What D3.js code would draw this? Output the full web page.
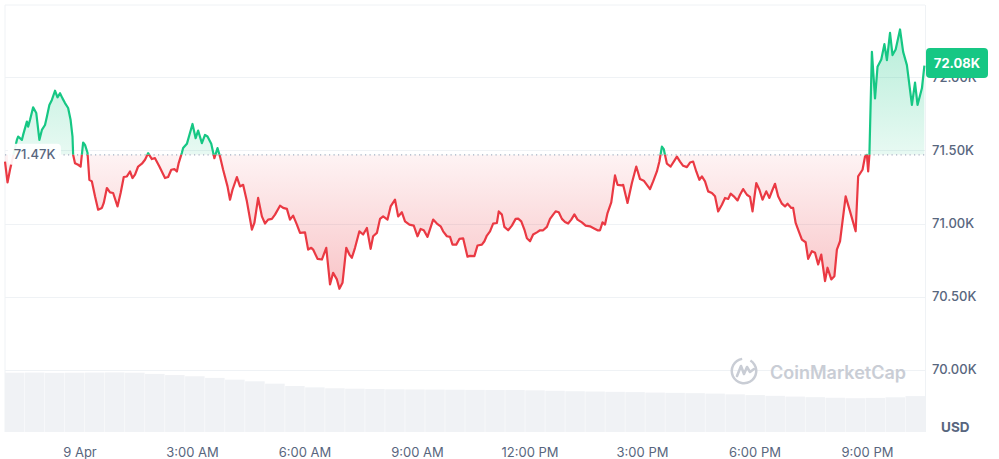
<!DOCTYPE html>
<html>
<head>
<meta charset="utf-8">
<script src="https://cdn.jsdelivr.net/npm/d3@7/dist/d3.min.js"></script>
<style>
  html, body { margin: 0; padding: 0; background: #fff; }
  svg { display: block; font-family: Inter, "Noto Sans", sans-serif; }
</style>
</head>
<body>
<svg id="chart" width="999" height="459"></svg>
<script>
// ---------- DATA ----------
const startTime = new Date(2024, 3, 8, 22, 0); // 8 Apr 22:00
// minutes after startTime
const minutes = [
  0,4,8,19,21,27,29,35,37,40,
  45,50,55,59,64,67,71,75,80,84,
  88,92,96,101,105,108,109,112,117,121,
  125,128,132,135,139,144,149,155,158,163,
  168,173,180,185,190,195,200,204,208,213,
  219,224,229,235,240,247,
  256,261,266,271,275,278,283,285,291,300,
  305,309,315,320,324,330,335,340,344,349,
  356,360,364,371,376,381,387,395,399,405,
  411,416,421,427,432,440,445,451,456,461,
  467,472,480,485,490,
  493,500,507,514,520,525,531,535,540,546,
  551,555,560,567,573,579,585,589,595,600,
  605,612,617,624,629,635,640,647,654,660,
  665,670,676,685,691,697,701,707,712,716,
  722,727,733,740,
  744,751,756,763,767,771,776,781,787,790,
  795,799,805,811,817,821,826,831,835,840,
  845,851,856,861,867,872,877,881,886,891,
  896,901,906,911,916,923,929,936,941,948,
  952,956,960,964,970,976,980,987,989,
  996,1003,1010,1016,1022,1027,1032,1037,1043,1047,
  1051,1054,1059,1065,1070,1075,1080,1085,1091,1096,
  1101,1106,1111,1115,1120,1125,1131,1136,1141,1147,
  1152,1157,1161,1166,1172,1176,1181,1187,1192,1196,
  1202,1207,1212,1218,1223,1228,1232,
  1237,1243,1248,1252,1258,1261,1265,1270,1275,1281,
  1285,1291,1296,1301,1306,1312,1316,1322,1327,1331,
  1336,1345,1352,1361,1365,1372,1376,1379,1381,1383,
  1387,1392,1396,1402,1407,1411,1416,1420,1425,1432,
  1437,1443,1451,1456,1460,1467,1471
];
const prices = [
  71424,71281,71368,71572,71595,71572,71606,71697,71663,71708,
  71795,71756,71572,71640,71674,71731,71811,71845,71908,71863,
  71891,71856,71824,71790,71708,71595,71470,71413,71402,71390,
  71554,71538,71484,71299,71288,71186,71095,71107,71141,71243,
  71213,71209,71117,71209,71318,71322,71356,71311,71334,71390,
  71409,71436,71481,71441,71447,71390,
  71311,71318,71368,71372,71356,71415,71484,71516,71545,71681,
  71584,71636,71550,71606,71595,71545,71447,71516,71458,71368,
  71254,71163,71231,71318,71254,71265,71152,70959,71004,71175,
  71049,71000,71027,71032,71061,71122,71107,71100,71027,71054,
  70993,70936,70940,70822,70834,
  70822,70759,70754,70834,70584,70663,70618,70554,70595,70834,
  70788,70766,70834,70947,70925,70970,70827,70913,70936,71032,
  71049,71027,71117,71163,71049,71077,71015,70993,70986,70913,
  70963,70954,70909,71027,71000,70981,70947,70913,70909,70856,
  70856,70895,70899,70773,
  70779,70777,70850,70856,70879,70918,70947,71000,71004,71083,
  71061,70977,70954,70986,71032,71034,71015,70959,70899,70879,
  70925,70940,70954,70954,70977,71032,71061,71083,71077,71032,
  71011,71000,71027,71063,71027,71008,70986,70981,70970,70954,
  70954,71008,70993,71072,71145,71329,71265,71261,71265,
  71141,71277,71390,71304,71293,71265,71236,71288,71356,71424,
  71526,71509,71409,71390,71424,71458,71424,71395,71386,71417,
  71424,71356,71299,71322,71288,71220,71209,71186,71083,71129,
  71175,71168,71204,71186,71158,71197,71236,71197,71182,71083,
  71277,71231,71163,71220,71175,71231,71272,
  71186,71136,71117,71136,71107,71107,71004,70947,70890,70872,
  70759,70811,70800,70720,70788,70606,70698,70618,70640,70822,
  70879,71186,71083,70947,71322,71368,71458,71470,71356,71470,
  72174,71856,72072,72122,72227,72118,72304,72152,72190,72327,
  72174,72083,71811,71963,71811,71925,72080
];
const refPrice = 71470;
const lastPrice = 72080;
const yTicks = [70000, 70500, 71000, 71500, 72000];
// 24h volume (billions USD), one bar per ~32 minutes
const volumes = [
  40.0,40.1,39.9,40.0,40.1,40.2,40.0,39.2,38.4,37.6,
  36.5,35.3,34.2,32.6,31.0,30.1,29.5,29.2,29.0,28.8,
  28.7,28.6,28.5,28.4,28.3,28.3,28.1,27.8,27.5,27.3,
  27.1,26.9,26.6,26.4,26.2,25.9,25.4,24.9,24.4,23.9,
  23.5,23.1,22.8,23.0,23.4,24.2
];

// ---------- LAYOUT ----------
const svg = d3.select("#chart");
const L = 5, R = 925, TOP = 5, VOLBOT = 432;
const data = minutes.map((m, i) => ({ t: d3.timeMinute.offset(startTime, m), v: prices[i] }));

const x = d3.scaleTime()
  .domain([startTime, d3.timeMinute.offset(startTime, minutes[minutes.length - 1])])
  .range([L, 924.4]);
const y = d3.scaleLinear().domain([70000, 72000]).range([369.8, 77.3]);
const vy = d3.scaleLinear().domain([0, 40]).range([VOLBOT, 372.7]);
const vx = d3.scaleBand().domain(d3.range(volumes.length)).range([L, R]).paddingInner(0.025);

const GREEN = "#16c784", RED = "#ea3943", TXT = "#58667e", GRID = "#eff2f5";
const refY = y(refPrice);

const defs = svg.append("defs");
const gG = defs.append("linearGradient").attr("id", "gGreen")
  .attr("gradientUnits", "userSpaceOnUse").attr("x1", 0).attr("x2", 0).attr("y1", 25).attr("y2", refY);
gG.append("stop").attr("offset", 0).attr("stop-color", GREEN).attr("stop-opacity", 0.32);
gG.append("stop").attr("offset", 1).attr("stop-color", GREEN).attr("stop-opacity", 0.1);
const gR = defs.append("linearGradient").attr("id", "gRed")
  .attr("gradientUnits", "userSpaceOnUse").attr("x1", 0).attr("x2", 0).attr("y1", refY).attr("y2", 292);
gR.append("stop").attr("offset", 0).attr("stop-color", RED).attr("stop-opacity", 0.06);
gR.append("stop").attr("offset", 1).attr("stop-color", RED).attr("stop-opacity", 0.3);

defs.append("clipPath").attr("id", "cAbove").append("rect")
  .attr("x", 0).attr("y", 0).attr("width", 999).attr("height", refY);
defs.append("clipPath").attr("id", "cBelow").append("rect")
  .attr("x", 0).attr("y", refY).attr("width", 999).attr("height", 459 - refY);

// frame + grid
svg.append("line").attr("x1", L).attr("x2", R).attr("y1", TOP).attr("y2", TOP).attr("stroke", GRID);
svg.append("line").attr("x1", L).attr("x2", L).attr("y1", TOP).attr("y2", VOLBOT).attr("stroke", GRID);
svg.append("line").attr("x1", R + 0.5).attr("x2", R + 0.5).attr("y1", TOP).attr("y2", VOLBOT).attr("stroke", GRID);
svg.append("g").selectAll("line").data(yTicks).join("line")
  .attr("x1", L).attr("x2", R)
  .attr("y1", d => Math.round(y(d)) + 0.5).attr("y2", d => Math.round(y(d)) + 0.5)
  .attr("stroke", GRID);

// volume bars
svg.append("g").selectAll("rect").data(volumes).join("rect")
  .attr("x", (d, i) => vx(i)).attr("width", vx.bandwidth())
  .attr("y", d => vy(d)).attr("height", d => VOLBOT - vy(d))
  .attr("fill", "#f0f2f5");

// watermark
const wm = svg.append("g").attr("transform", "translate(744,371)");
wm.append("path")
  .attr("d", d3.arc()({ innerRadius: 11, outerRadius: 13.5, startAngle: 0.55, endAngle: 2 * Math.PI - 0.15 }))
  .attr("fill", "#c9cdd5");
wm.append("path")
  .attr("d", "M-7,5 L-3,-5 L0,3 L3,-4 L6,1 L10,-2")
  .attr("fill", "none").attr("stroke", "#c9cdd5").attr("stroke-width", 2.6)
  .attr("stroke-linejoin", "round").attr("stroke-linecap", "round");
svg.append("text").attr("x", 770).attr("y", 379).attr("font-size", 18).attr("font-weight", 600)
  .attr("fill", "#c9cdd5").attr("textLength", 136).text("CoinMarketCap");

// areas
const area = d3.area().x(d => x(d.t)).y0(refY).y1(d => y(d.v));
svg.append("path").datum(data).attr("d", area).attr("fill", "url(#gGreen)").attr("clip-path", "url(#cAbove)");
svg.append("path").datum(data).attr("d", area).attr("fill", "url(#gRed)").attr("clip-path", "url(#cBelow)");

// reference dotted line
svg.append("line").attr("x1", L).attr("x2", R).attr("y1", refY).attr("y2", refY)
  .attr("stroke", "#a6b0c3").attr("stroke-width", 1.2).attr("stroke-dasharray", "1.2,3.3");

// price line
const line = d3.line().x(d => x(d.t)).y(d => y(d.v));
svg.append("path").datum(data).attr("d", line).attr("fill", "none").attr("stroke", GREEN)
  .attr("stroke-width", 2.2).attr("stroke-linejoin", "round").attr("clip-path", "url(#cAbove)");
svg.append("path").datum(data).attr("d", line).attr("fill", "none").attr("stroke", RED)
  .attr("stroke-width", 2.2).attr("stroke-linejoin", "round").attr("clip-path", "url(#cBelow)");

// y-axis labels
svg.append("g").selectAll("text").data(yTicks).join("text")
  .attr("x", 932).attr("y", d => y(d)).attr("dy", "0.35em")
  .attr("font-size", 13).attr("font-weight", 500).attr("fill", TXT)
  .text(d => (d / 1000).toFixed(2) + "K");
svg.append("text").attr("x", 941).attr("y", 427).attr("dy", "0.35em")
  .attr("font-size", 13.5).attr("font-weight", 700).attr("fill", TXT).text("USD");

// x-axis labels
const xTicks = x.ticks(d3.timeHour.every(3));
const fmt = d => d.getHours() === 0 ? d3.timeFormat("%-d %b")(d) : d3.timeFormat("%-I:%M %p")(d);
svg.append("g").selectAll("text").data(xTicks).join("text")
  .attr("x", d => x(d)).attr("y", 452).attr("dy", "0.35em").attr("text-anchor", "middle")
  .attr("font-size", 13).attr("fill", TXT).text(fmt);

// reference price label (left)
const refLabel = (refPrice / 1000).toFixed(2) + "K";
svg.append("rect").attr("x", 8).attr("y", refY - 11).attr("width", 53).attr("height", 21).attr("rx", 4)
  .attr("fill", "#fff").attr("fill-opacity", 0.92);
svg.append("text").attr("x", 34.5).attr("y", refY).attr("dy", "0.35em").attr("text-anchor", "middle")
  .attr("font-size", 13).attr("font-weight", 500).attr("fill", TXT).text(refLabel);

// last price badge (covers the 72.00K tick label, as in the reference)
svg.append("rect").attr("x", 926).attr("y", 48).attr("width", 62).attr("height", 30).attr("rx", 4)
  .attr("fill", GREEN);
svg.append("text").attr("x", 957).attr("y", 63.5).attr("dy", "0.35em").attr("text-anchor", "middle")
  .attr("font-size", 13).attr("font-weight", 700).attr("fill", "#fff")
  .text((lastPrice / 1000).toFixed(2) + "K");
</script>
</body>
</html>
